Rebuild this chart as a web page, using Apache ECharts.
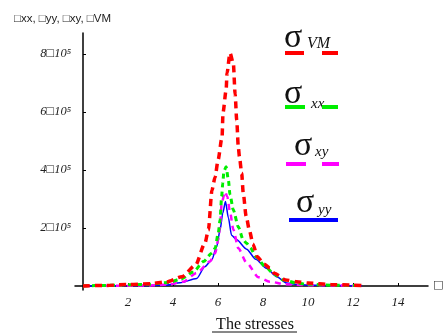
<!DOCTYPE html>
<html><head><meta charset="utf-8">
<script src="https://cdn.jsdelivr.net/npm/echarts@6/dist/echarts.min.js"></script>
<style>html,body{margin:0;padding:0;background:#fff}#c{width:443px;height:334px}</style>
</head><body><div id="c"></div>
<script>
// Data
var vmX = [0, 1, 2, 3, 3.7, 4.4, 5.0, 5.42, 5.57, 5.73, 5.87, 6.0, 6.18, 6.22, 6.36, 6.4, 6.53, 6.68, 6.76, 6.83, 6.9, 6.95, 7.05, 7.12, 7.25, 7.4, 7.55, 7.75, 8.05, 8.3, 8.5, 9.0, 9.5, 10, 11, 12, 12.4];
var vmY = [0, 2000, 5000, 8000, 14000, 32000, 72000, 148000, 193000, 330000, 376000, 434000, 514000, 597000, 676000, 734000, 803000, 768000, 660000, 572000, 480000, 446000, 389000, 320000, 240000, 190000, 145000, 100000, 75000, 62000, 44000, 21000, 15000, 10000, 5000, 3000, 2000];
var xxX = [0, 1, 2, 3, 3.8, 4.35, 4.9, 5.35, 5.72, 5.87, 6.01, 6.09, 6.16, 6.21, 6.26, 6.36, 6.46, 6.53, 6.68, 6.9, 7.12, 7.27, 7.45, 7.68, 8.1, 8.5, 8.9, 9.5, 10, 11, 12, 12.4];
var xxY = [0, 2000, 4000, 6000, 12000, 24000, 48000, 84000, 113000, 130000, 182000, 228000, 308000, 354000, 395000, 411000, 365000, 315000, 262000, 204000, 159000, 147000, 130000, 101000, 67000, 40000, 21000, 10000, 6000, 3000, 2000, 1000];
var xyX = [0, 1, 2, 3, 3.8, 4.46, 5.05, 5.64, 5.87, 6.01, 6.09, 6.16, 6.31, 6.41, 6.53, 6.68, 6.9, 7.27, 7.8, 8.3, 9, 10, 11, 12, 12.4];
var xyY = [0, 1000, 1000, 2000, 5000, 15000, 45000, 84000, 113000, 159000, 204000, 285000, 325000, 308000, 256000, 195000, 130000, 80000, 30000, 15000, 6000, 3000, 2000, 1000, 1000];
var yyX = [0, 1, 2, 3, 3.7, 4.31, 5.05, 5.42, 5.72, 5.94, 6.09, 6.21, 6.33, 6.46, 6.6, 6.83, 7.27, 7.68, 8.15, 8.61, 9.05, 9.5, 10, 11, 12, 12.4];
var yyY = [0, 1000, 1000, 2000, 3000, 11000, 26000, 67000, 90000, 135000, 193000, 251000, 291000, 235000, 175000, 159000, 127000, 92000, 61000, 32000, 10000, 5000, 3000, 2000, 1000, 1000];
var xTicks = [2, 4, 6, 8, 10, 12, 14];
var yTicks = [200000, 400000, 600000, 800000];

function pairs(xs, ys){ return xs.map(function(x,i){ return [x, ys[i]]; }); }

var chart = echarts.init(document.getElementById('c'), null, {renderer:'canvas'});
var serif = 'Liberation Serif';
function line(name, xs, ys, color, width, dash){
  return {type:'line', name:name, data:pairs(xs,ys), showSymbol:false, smooth:0.25, smoothMonotone:'x',
    lineStyle:{color:color, width:width, type:dash}, z: 3};
}
chart.setOption({
  animation:false,
  grid:{left:75, right:15, top:33, bottom:44},
  xAxis:{type:'value', min:-0.356, max:15.33,
    axisLine:{onZero:true, lineStyle:{color:'#000', width:1.5}},
    axisTick:{show:true, inside:true, length:3, customValues:xTicks, lineStyle:{color:'#000'}},
    axisLabel:{customValues:xTicks, fontFamily:serif, fontStyle:'italic', fontSize:13, color:'#222', margin:6},
    splitLine:{show:false}},
  yAxis:{type:'value', min:-13800, max:872000,
    axisLine:{onZero:true, lineStyle:{color:'#000', width:1.5}},
    axisTick:{show:true, inside:true, length:3, customValues:yTicks, lineStyle:{color:'#000'}},
    axisLabel:{customValues:yTicks, fontFamily:serif, fontStyle:'italic', fontSize:12.5, color:'#222', margin:4,
      formatter:function(v){ return (v/100000) + '\u25A110\u2075'; }},
    splitLine:{show:false}},
  series:[
    line('yy', yyX, yyY, '#0000ff', 1.5, 'solid'),
    line('xy', xyX, xyY, '#ff00ff', 2.5, [6,5]),
    line('xx', xxX, xxY, '#00ee00', 3, [5,4]),
    line('VM', vmX, vmY, '#ff0000', 3.5, [7,5])
  ],
  graphic:[
    {type:'text', left:14, top:13, style:{text:'\u25A1xx, \u25A1yy, \u25A1xy, \u25A1VM', font:'11.5px "Liberation Sans"', fill:'#222'}},
    {type:'text', left:433, top:280, style:{text:'\u25A1', font:'11px "DejaVu Sans"', fill:'#333'}},
    {type:'text', x:255, y:325, style:{text:'The stresses', font:'16px "Liberation Serif"', fill:'#111', align:'center', verticalAlign:'middle'}},
    {type:'line', shape:{x1:212, y1:332, x2:297, y2:332}, style:{stroke:'#111', lineWidth:1}},
    // legend: sigma_VM
    {type:'text', x:284, y:38, style:{text:'\u03C3', font:'34px "Liberation Serif"', fill:'#111', verticalAlign:'middle'}},
    {type:'text', x:307, y:44, style:{text:'VM', font:'italic 16px "Liberation Serif"', fill:'#111', verticalAlign:'middle'}},
    {type:'line', shape:{x1:285, y1:53, x2:304, y2:53}, style:{stroke:'#ff0000', lineWidth:4}},
    {type:'line', shape:{x1:322, y1:53, x2:338, y2:53}, style:{stroke:'#ff0000', lineWidth:4}},
    // sigma_xx
    {type:'text', x:284, y:94, style:{text:'\u03C3', font:'34px "Liberation Serif"', fill:'#111', verticalAlign:'middle'}},
    {type:'text', x:311, y:104, style:{text:'xx', font:'italic 15px "Liberation Serif"', fill:'#111', verticalAlign:'middle'}},
    {type:'line', shape:{x1:285, y1:107, x2:305, y2:107}, style:{stroke:'#00ee00', lineWidth:4}},
    {type:'line', shape:{x1:322, y1:107, x2:338, y2:107}, style:{stroke:'#00ee00', lineWidth:4}},
    // sigma_xy
    {type:'text', x:294, y:146, style:{text:'\u03C3', font:'34px "Liberation Serif"', fill:'#111', verticalAlign:'middle'}},
    {type:'text', x:315, y:152, style:{text:'xy', font:'italic 15px "Liberation Serif"', fill:'#111', verticalAlign:'middle'}},
    {type:'line', shape:{x1:286, y1:164, x2:306, y2:164}, style:{stroke:'#ff00ff', lineWidth:4}},
    {type:'line', shape:{x1:322, y1:164, x2:339, y2:164}, style:{stroke:'#ff00ff', lineWidth:4}},
    // sigma_yy
    {type:'text', x:296, y:203, style:{text:'\u03C3', font:'34px "Liberation Serif"', fill:'#111', verticalAlign:'middle'}},
    {type:'text', x:318, y:210, style:{text:'yy', font:'italic 15px "Liberation Serif"', fill:'#111', verticalAlign:'middle'}},
    {type:'line', shape:{x1:289, y1:220, x2:338, y2:220}, style:{stroke:'#0000ff', lineWidth:4}}
  ]
});
</script></body></html>
